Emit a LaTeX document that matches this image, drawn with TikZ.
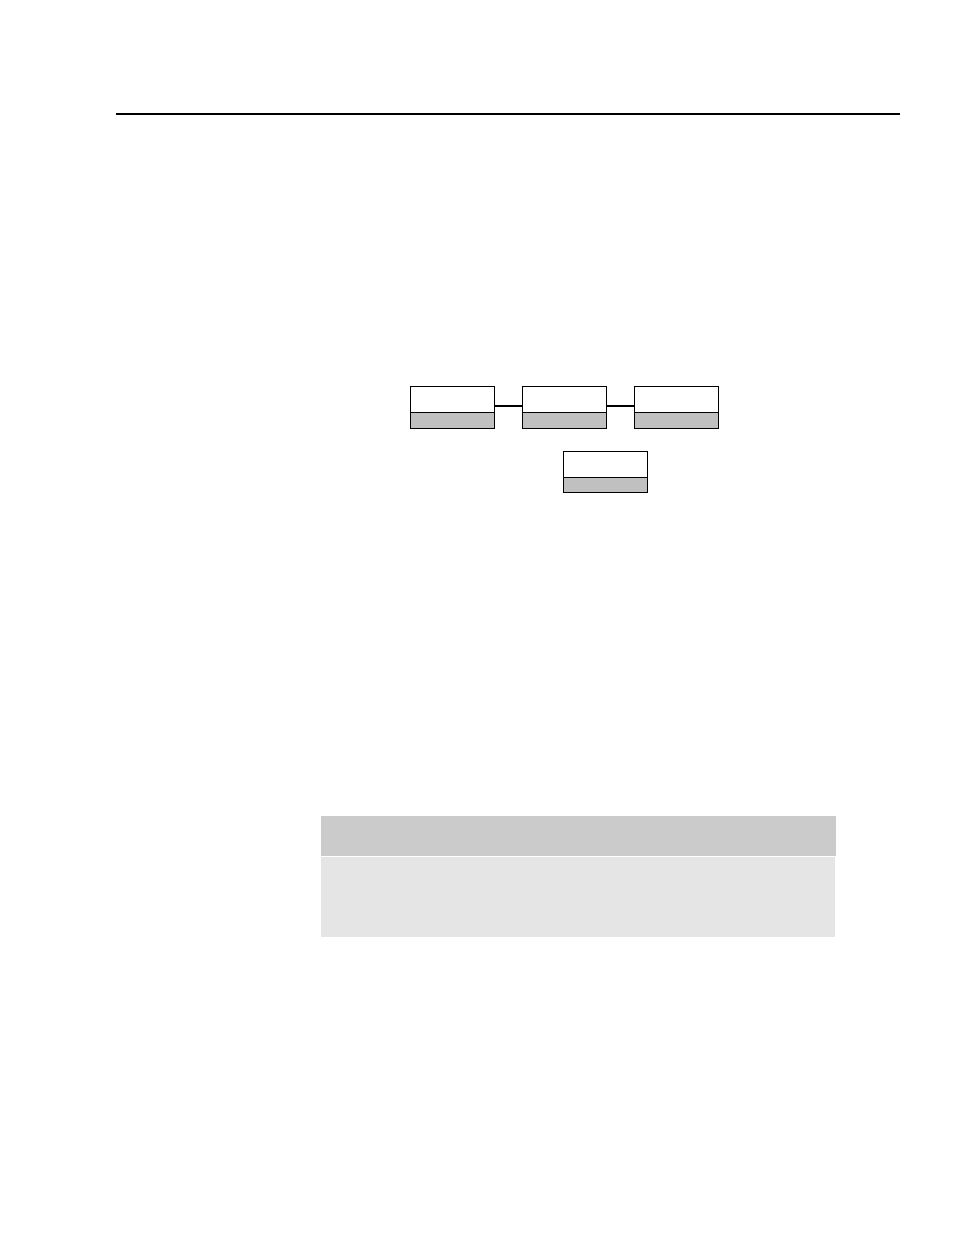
\documentclass[tikz,border=0pt]{standalone}
\usetikzlibrary{positioning}
\tikzset{
    unittop/.style = {
        draw,
        shape=rectangle,
        minimum height=26pt,
        minimum width=84pt,
        outer sep=0pt,
        line width=1pt
    },
    unitbot/.style = {
        draw,
        shape=rectangle,
        fill=boxgray,
        minimum height=16pt,
        minimum width=84pt,
        outer sep=0pt,
        line width=1pt
    },
    band/.style = {
        shape=rectangle,
        outer sep=0pt,
        inner sep=0pt
    },
}
\definecolor{boxgray}{HTML}{C0C0C0}
\definecolor{headgray}{HTML}{CBCBCB}
\definecolor{bodygray}{HTML}{E5E5E5}

\begin{document}
\begin{tikzpicture}[x=1pt,y=-1pt]
        \useasboundingbox (0,0) rectangle (954,1235);

        \draw[line width=1.5pt] (116,114) -- (900,114);

        \node[unittop] (u1) at (452,399) {};
        \node[unitbot, below=0pt of u1] (l1) {};
        \node[unittop, right=28pt of u1] (u2) {};
        \node[unitbot, below=0pt of u2] (l2) {};
        \node[unittop, right=28pt of u2] (u3) {};
        \node[unitbot, below=0pt of u3] (l3) {};

        \node[unittop] (u4) at (605.3,464.7) {};
        \node[unitbot, below=0pt of u4, minimum height=15pt] (l4) {};

        \path[draw, line width=2pt] (u1.-10) -- (u2.190);
        \path[draw, line width=2pt] (u2.-10) -- (u3.190);

        \node[band, fill=headgray, minimum width=515pt, minimum height=40pt, anchor=north west] (head) at (321,816) {};
        \node[band, fill=bodygray, minimum width=514pt, minimum height=80pt, anchor=north west] (body) at (321,857) {};
    \end{tikzpicture}
\end{document}
